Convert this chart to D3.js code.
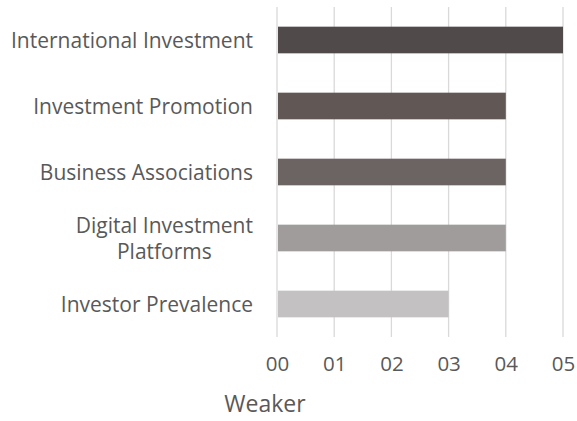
<!DOCTYPE html>
<html>
<head>
<meta charset="utf-8">
<script src="https://cdn.jsdelivr.net/npm/d3@7"></script>
<style>
  html, body { margin: 0; padding: 0; background: #fff; }
  svg { display: block; }
</style>
</head>
<body>
<svg id="chart" width="577" height="421"></svg>
<script>
const categories = [
  ["International Investment"],
  ["Investment Promotion"],
  ["Business Associations"],
  ["Digital Investment", "Platforms"],
  ["Investor Prevalence"]
];
const values = [5, 4, 4, 4, 3];
const barColors = ["#504a4a", "#615856", "#6c6462", "#a09c9b", "#c3c1c1"];
const tickValues = [0, 1, 2, 3, 4, 5];
const tickLabels = ["00", "01", "02", "03", "04", "05"];
const axisTitle = "Weaker";

const svg = d3.select("#chart");
const textColor = "#595959";
const font = "'Open Sans', sans-serif";

const x = d3.scaleLinear().domain([0, 5]).range([277, 563]);
const y = d3.scaleBand()
  .domain(d3.range(values.length))
  .range([7, 337])
  .paddingInner(0.596)
  .paddingOuter(0.298);

// gridlines
svg.append("g")
  .selectAll("line")
  .data(tickValues)
  .join("line")
  .attr("x1", d => x(d)).attr("x2", d => x(d))
  .attr("y1", 7).attr("y2", 337)
  .attr("stroke", "#d9d9d9")
  .attr("stroke-width", 1.3);

// bars
svg.append("g")
  .selectAll("rect")
  .data(values)
  .join("rect")
  .attr("x", x(0) + 1)
  .attr("y", (d, i) => y(i))
  .attr("width", d => x(d) - x(0) - 1)
  .attr("height", y.bandwidth())
  .attr("fill", (d, i) => barColors[i]);

// x tick labels via axis
const xAxis = d3.axisBottom(x)
  .tickValues(tickValues)
  .tickFormat((d, i) => tickLabels[i])
  .tickSize(0)
  .tickPadding(0);
const gx = svg.append("g").attr("transform", "translate(0,356)").call(xAxis);
gx.select(".domain").remove();
gx.selectAll("text")
  .attr("fill", textColor)
  .style("font-family", font)
  .style("font-size", "20.5px");

// category labels
const gy = svg.append("g");
categories.forEach((lines, i) => {
  const cy = y(i) + y.bandwidth() / 2;
  const lh = 26;
  const t = gy.append("text")
    .attr("text-anchor", "middle")
    .attr("fill", textColor)
    .style("font-family", font)
    .style("font-size", "21px");
  const start = cy - (lines.length - 1) * lh / 2;
  lines.forEach((ln, j) => {
    t.append("tspan")
      .attr("x", 0)
      .attr("y", start + j * lh)
      .attr("dy", "0.36em")
      .text(ln);
  });
  const bb = t.node().getBBox();
  t.attr("transform", `translate(${253 - bb.width / 2},0)`);
});

// axis title
svg.append("text")
  .attr("x", 265)
  .attr("y", 412)
  .attr("text-anchor", "middle")
  .attr("fill", textColor)
  .style("font-family", font)
  .style("font-size", "23px")
  .text(axisTitle);
</script>
</body>
</html>
